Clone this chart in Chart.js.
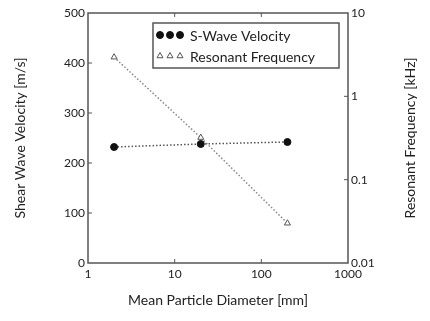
<!DOCTYPE html>
<html>
<head>
<meta charset="utf-8">
<script src="https://cdn.jsdelivr.net/npm/chart.js@4"></script>
<style>
  body { margin: 0; background: #fff; }
  #wrap { width: 430px; height: 321px; }
</style>
</head>
<body>
<div id="wrap"><canvas id="chart" width="430" height="321"></canvas></div>
<script>
const diameters = [2, 20, 200];
const shearVelocity = [232, 238, 242];
const resonantFreq = [2.95, 0.32, 0.03];

const xTicks = [1, 10, 100, 1000];
const freqTicks = [0.01, 0.1, 1, 10];

const axisColor = '#555';
const textColor = '#222';
const fontFamily = 'Lato, "Noto Sans", sans-serif';

// frame around plot area + small inward tick marks
const framePlugin = {
  id: 'frame',
  afterDatasetsDraw(chart) {
    const { ctx, chartArea: a, scales } = chart;
    ctx.save();
    ctx.strokeStyle = axisColor;
    ctx.lineWidth = 1.5;
    ctx.strokeRect(a.left, a.top, a.right - a.left, a.bottom - a.top);
    ctx.lineWidth = 1;
    ctx.beginPath();
    [10, 100].forEach(v => {
      const px = scales.x.getPixelForValue(v);
      ctx.moveTo(px, a.bottom); ctx.lineTo(px, a.bottom - 4);
      ctx.moveTo(px, a.top); ctx.lineTo(px, a.top + 4);
    });
    [100, 200, 300, 400].forEach(v => {
      const py = scales.y.getPixelForValue(v);
      ctx.moveTo(a.left, py); ctx.lineTo(a.left + 4, py);
    });
    [0.1, 1].forEach(v => {
      const py = scales.y1.getPixelForValue(v);
      ctx.moveTo(a.right, py); ctx.lineTo(a.right - 4, py);
    });
    ctx.stroke();

    // right axis title, reading bottom to top
    ctx.fillStyle = textColor;
    ctx.font = '14px ' + fontFamily;
    ctx.textAlign = 'center';
    ctx.textBaseline = 'middle';
    ctx.translate(410, (a.top + a.bottom) / 2);
    ctx.rotate(-Math.PI / 2);
    ctx.fillText('Resonant Frequency [kHz]', 0, 0);
    ctx.restore();
  }
};

// legend with three markers per entry
const legendPlugin = {
  id: 'tripleLegend',
  afterDraw(chart) {
    const { ctx } = chart;
    const box = { x: 153, y: 23, w: 186, h: 45 };
    ctx.save();
    ctx.fillStyle = '#fff';
    ctx.fillRect(box.x, box.y, box.w, box.h);
    ctx.strokeStyle = axisColor;
    ctx.lineWidth = 1.5;
    ctx.strokeRect(box.x, box.y, box.w, box.h);
    ctx.font = '14px ' + fontFamily;
    ctx.textBaseline = 'middle';
    chart.data.datasets.forEach((ds, i) => {
      const cy = box.y + 12 + i * 21;
      for (let k = 0; k < 3; k++) {
        ctx.fillStyle = ds.pointBackgroundColor;
        ctx.strokeStyle = ds.pointBorderColor;
        ctx.lineWidth = 1;
        Chart.helpers.drawPoint(ctx, {
          pointStyle: ds.pointStyle,
          radius: ds.pointRadius,
          borderWidth: 1
        }, box.x + 7 + k * 10, cy);
      }
      ctx.fillStyle = textColor;
      ctx.fillText(ds.label, box.x + 37, cy + 1);
    });
    ctx.restore();
  }
};

new Chart(document.getElementById('chart'), {
  type: 'line',
  data: {
    datasets: [{
      label: 'S-Wave Velocity',
      data: diameters.map((d, i) => ({ x: d, y: shearVelocity[i] })),
      yAxisID: 'y',
      borderColor: '#555',
      borderWidth: 1.5,
      borderDash: [1.5, 2],
      pointStyle: 'circle',
      pointRadius: 3.5,
      pointBackgroundColor: '#111',
      pointBorderColor: '#111',
      pointBorderWidth: 1,
      fill: false
    }, {
      label: 'Resonant Frequency',
      data: diameters.map((d, i) => ({ x: d, y: resonantFreq[i] })),
      yAxisID: 'y1',
      borderColor: '#888',
      borderWidth: 1.5,
      borderDash: [1.5, 2],
      pointStyle: 'triangle',
      pointRadius: 3.5,
      pointBackgroundColor: '#fff',
      pointBorderColor: '#555',
      pointBorderWidth: 1,
      fill: false
    }]
  },
  options: {
    responsive: false,
    devicePixelRatio: 1,
    animation: false,
    layout: { padding: { top: 13, left: 0, right: 0, bottom: 8 } },
    plugins: { legend: { display: false }, tooltip: { enabled: false } },
    scales: {
      x: {
        type: 'logarithmic',
        min: 1, max: 1000,
        afterBuildTicks: s => { s.ticks = xTicks.map(v => ({ value: v })); },
        afterFit: s => { s.height = 50; },
        grid: { display: false, drawTicks: false },
        border: { display: false },
        ticks: {
          color: textColor, font: { family: fontFamily, size: 12 }, padding: 4,
          autoSkip: false, maxRotation: 0,
          callback: v => String(v)
        },
        title: {
          display: true, text: 'Mean Particle Diameter [mm]', color: textColor,
          font: { family: fontFamily, size: 14 }, padding: { top: 1 }
        }
      },
      y: {
        type: 'linear', position: 'left',
        min: 0, max: 500,
        ticks: {
          stepSize: 100, color: textColor, font: { family: fontFamily, size: 12 }, padding: 3
        },
        afterFit: s => { s.width = 88; },
        grid: { display: false, drawTicks: false },
        border: { display: false },
        title: {
          display: true, text: 'Shear Wave Velocity [m/s]', color: textColor,
          font: { family: fontFamily, size: 14 }, padding: { top: 12, bottom: 0 }
        }
      },
      y1: {
        type: 'logarithmic', position: 'right',
        min: 0.01, max: 10,
        afterBuildTicks: s => { s.ticks = freqTicks.map(v => ({ value: v })); },
        afterFit: s => { s.width = 82; },
        grid: { display: false, drawTicks: false },
        border: { display: false },
        ticks: {
          color: textColor, font: { family: fontFamily, size: 12 }, padding: 3,
          callback: v => String(v)
        }
      }
    }
  },
  plugins: [framePlugin, legendPlugin]
});
</script>
</body>
</html>
